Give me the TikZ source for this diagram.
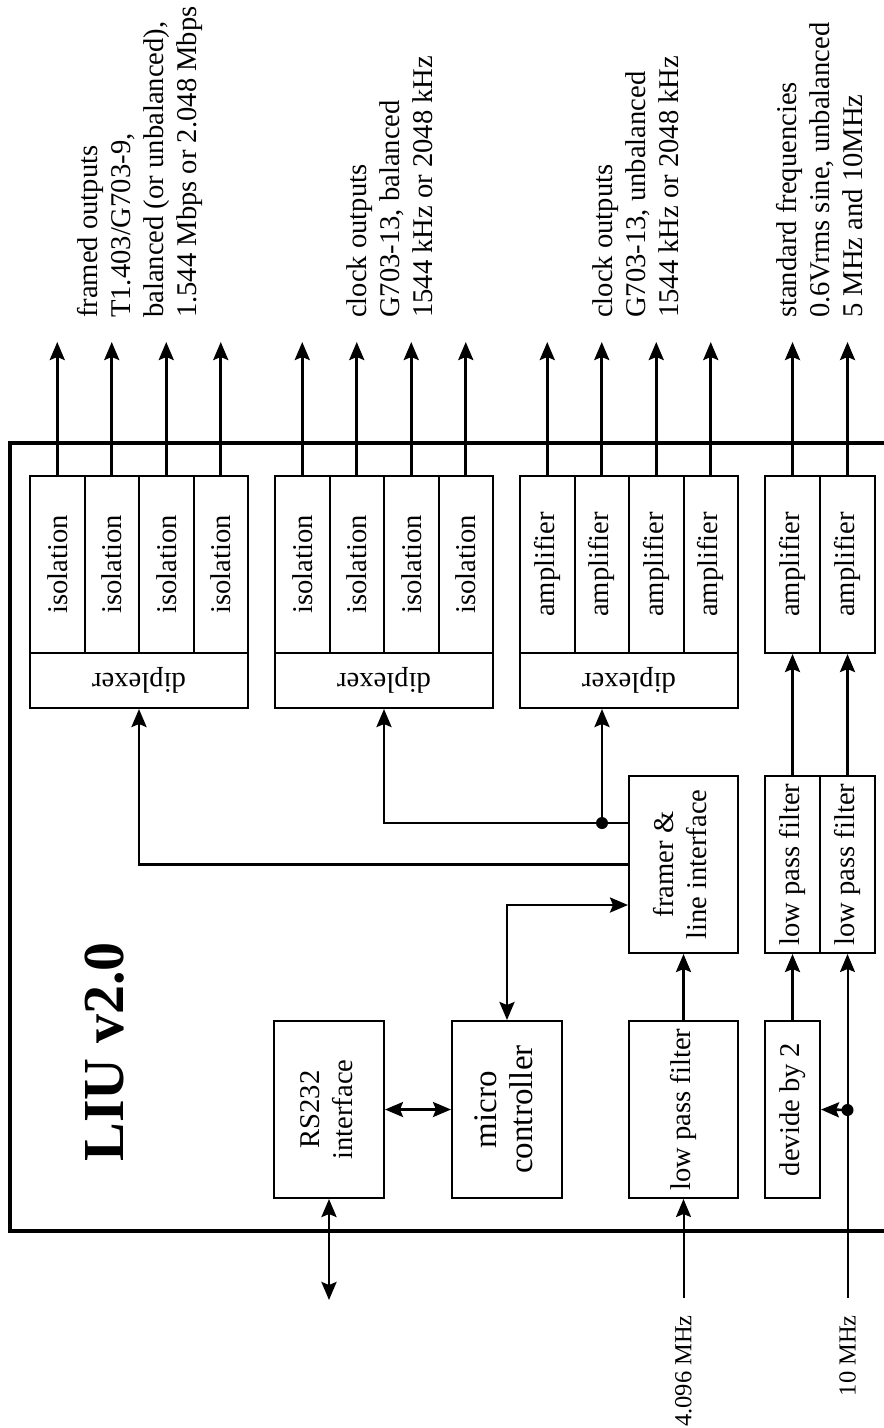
\documentclass[tikz,border=0pt]{standalone}
\usepackage{fontspec}
\usepackage{graphicx}
\setmainfont{Liberation Serif}
\usetikzlibrary{arrows.meta}
\begin{document}
\begin{tikzpicture}[x=1pt,y=-1pt,
  box/.style={draw=black,line width=2pt,inner sep=0pt,font=\fontsize{28.6}{33}\selectfont},
  lbl/.style={rotate=90,align=left,inner sep=0pt,font=\fontsize{28.6}{33}\selectfont},
  inlbl/.style={rotate=90,anchor=east,inner sep=0pt,font=\fontsize{24.5}{27}\selectfont},
  tip/.tip={Stealth[length=18pt,width=15pt,inset=3pt]},
  arr/.style={line width=2.7pt,-tip},
  thinarr/.style={line width=2pt,-tip},
  darr/.style={line width=2.7pt,tip-tip},
  dot/.style={circle,fill=black,inner sep=0pt,minimum size=12pt}]
\useasboundingbox (0,0) rectangle (884,1428);

% outer frame
\draw[line width=3.8pt] (900,443) -- (10,443) -- (10,1231) -- (900,1231);

% title
\node (title) at (105,1052) {\rotatebox{90}{\fontsize{58}{60}\selectfont\bfseries LIU v2.0}};

% output groups with diplexer
\foreach \g/\L/\t in {1/30/isolation,2/275/isolation,3/520/amplifier} {
  \foreach \i in {1,...,4} {
    \node[box,minimum width=54.5pt,minimum height=177pt] (c\g-\i) at ({\L+27.25+54.5*(\i-1)},564.5) {\rotatebox{90}{\t}};
    \path (c\g-\i.north) ++(0,-133) coordinate (o\g-\i);
    \draw[arr] (c\g-\i.north) -- (o\g-\i);
  }
  \node[box,minimum width=218pt,minimum height=55pt] (dip\g) at ({\L+109},680.5) {\rotatebox{180}{diplexer}};
}

% standard frequency amplifiers
\foreach \i/\X in {1/792.5,2/847.5} {
  \node[box,minimum width=55pt,minimum height=177pt] (c4-\i) at (\X,564.5) {\rotatebox{90}{amplifier}};
  \path (c4-\i.north) ++(0,-133) coordinate (o4-\i);
  \draw[arr] (c4-\i.north) -- (o4-\i);
}

% group labels
\node[lbl,anchor=north west] (l1) at (77,318) {framed outputs\\T1.403/G703-9,\\balanced (or unbalanced),\\1.544 Mbps or 2.048 Mbps};
\node[lbl,anchor=north west] (l2) at (346,318) {clock outputs\\G703-13, balanced\\1544 kHz or 2048 kHz};
\node[lbl,anchor=north west] (l3) at (592,318) {clock outputs\\G703-13, unbalanced\\1544 kHz or 2048 kHz};
\node[lbl,anchor=north west] (l4) at (776,318) {standard frequencies\\0.6Vrms sine, unbalanced\\5 MHz and 10MHz};

% lower blocks
\node[box,minimum width=109pt,minimum height=177pt] (framer) at (683.5,864.5)
  {\rotatebox{90}{\begin{tabular}{@{}c@{}}framer \&\\line interface\end{tabular}}};
\node[box,minimum width=109pt,minimum height=177pt] (lpfA) at (683.5,1109.5) {\rotatebox{90}{low pass filter}};
\node[box,minimum width=110pt,minimum height=177pt,font=\fontsize{33}{36}\selectfont] (micro) at (507,1109.5)
  {\rotatebox{90}{\begin{tabular}{@{}c@{}}micro\\controller\end{tabular}}};
\node[box,minimum width=110pt,minimum height=177pt] (rs) at (329,1109.5)
  {\rotatebox{90}{\begin{tabular}{@{}c@{}}RS232\\interface\end{tabular}}};
\node[box,minimum width=55pt,minimum height=177pt] (div) at (792.5,1109.5) {\rotatebox{90}{devide by 2}};
\node[box,minimum width=55pt,minimum height=177pt] (lpf1) at (792.5,864.5) {\rotatebox{90}{low pass filter}};
\node[box,minimum width=55pt,minimum height=177pt] (lpf2) at (847.5,864.5) {\rotatebox{90}{low pass filter}};

% helper coordinates
\coordinate (j1) at (602,823);
\coordinate (mc) at (507,905);
\coordinate (rsx) at (329,1300);
\coordinate (in1) at (683.5,1298);
\coordinate (in2) at (847.5,1298);
\coordinate (j2) at (847.5,1110);

% connections
\draw[arr] (framer.west) -| (dip1.south);
\draw[arr] (framer.west |- j1) -| (dip2.south);
\draw[arr] (j1) -- (j1 |- dip3.south);
\node[dot] (d1) at (j1) {};
\draw[darr] (framer.west |- mc) -- (mc) -- (micro.north);
\draw[darr] (rs.east) -- (micro.west);
\draw[darr] (rs.south) -- (rsx);
\draw[arr] (lpfA.north) -- (framer.south);
\draw[thinarr] (in1) -- (lpfA.south);
\draw[thinarr] (in2) -- (lpf2.south);
\draw[arr] (j2) -- (div.east);
\node[dot] (d2) at (j2) {};
\draw[arr] (div.north) -- (lpf1.south);
\draw[arr] (lpf1.north) -- (c4-1.south);
\draw[arr] (lpf2.north) -- (c4-2.south);

% input labels
\node[inlbl] (t1) at (683.5,1315) {4.096 MHz};
\node[inlbl] (t2) at (847.5,1315) {10 MHz};
\end{tikzpicture}
\end{document}
